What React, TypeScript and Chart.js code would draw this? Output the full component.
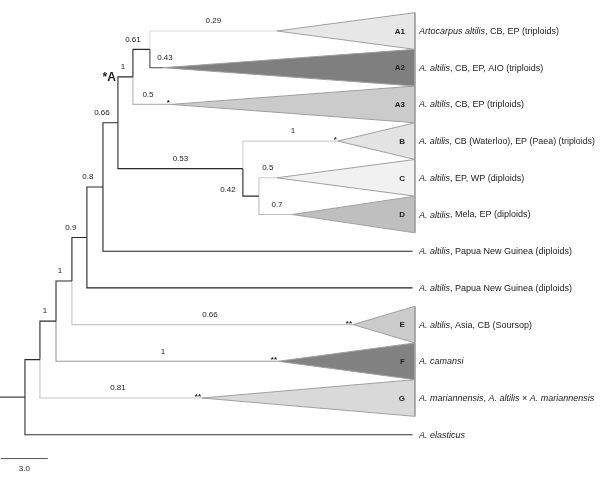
import React, { useEffect, useRef } from 'react';
import { Chart, registerables } from 'chart.js';

Chart.register(...registerables);

// ---------------- data ----------------
// Leaves (top to bottom). Italic parts are wrapped in underscores.
const leafLabels = [
  '_Artocarpus altilis_, CB, EP (triploids)',
  '_A. altilis_, CB, EP, AIO (triploids)',
  '_A. altilis_, CB, EP (triploids)',
  '_A. altilis_, CB (Waterloo), EP (Paea) (triploids)',
  '_A. altilis_, EP, WP (diploids)',
  '_A. altilis_, Mela, EP (diploids)',
  '_A. altilis_, Papua New Guinea (diploids)',
  '_A. altilis_, Papua New Guinea (diploids)',
  '_A. altilis_, Asia, CB (Soursop)',
  '_A. camansi_',
  '_A. mariannensis_, _A. altilis_ × _A. mariannensis_',
  '_A. elasticus_',
];
const cladeNames = ['A1', 'A2', 'A3', 'B', 'C', 'D', '', '', 'E', 'F', 'G', ''];
// depth (from root, in branch-length units) where each leaf branch ends / collapsed clade starts
const leafTipDepth = [16.15, 8.85, 9.36, 20.06, 16.15, 17.12, 24.85, 24.85, 21.03, 16.22, 11.35, 24.85];
const leafSupport = ['0.29', '0.43', '0.5', '1', '0.5', '0.7', '', '', '0.66', '1', '0.81', ''];
const leafStars = ['', '', '*', '*', '', '', '', '', '**', '**', '**', ''];
const cladeFill = ['#e7e7e7', '#7f7f7f', '#cbcbcb', '#e3e3e3', '#f1f1f1', '#bfbfbf', '', '', '#cbcbcb', '#828282', '#d9d9d9', ''];
const leafBranchColor = ['#d9d9d9', '#4a4a4a', '#b5b5b5', '#cfcfcf', '#c8c8c8', '#bdbdbd', '#222222', '#222222', '#c6c6c6', '#9c9c9c', '#c6c6c6', '#333333'];

// Internal nodes
const nodeNames = ['root', 'n1', 'n2', 'n3', 'n4', 'n5', 'n6', 'nA', 'n061', 'nBCD', 'nCD'];
const nodeDepth = [0, 0.96, 1.99, 3.01, 3.97, 5.0, 5.96, 6.92, 8.01, 13.97, 15.0];
const nodeChildren: (string | number)[][] = [
  ['n1', 11], ['n2', 10], ['n3', 9], ['n4', 8], ['n5', 7], ['n6', 6],
  ['nA', 'nBCD'], ['n061', 2], [0, 1], [3, 'nCD'], [4, 5],
];
const nodeSupport = ['', '', '1', '1', '0.9', '0.8', '0.66', '1', '0.61', '0.53', '0.42'];
const nodeCladeName = ['', '', '', '', '', '', '', '*A', '', '', ''];

const rootStemLength = 1.6;
const collapsedCladeDepth = 25.0;
const scaleBarLength = 3.0;
const scaleBarLabel = '3.0';

// ---------------- layout helpers (style) ----------------
const W = 600;
const H = 480;
const PX_PER_UNIT = 15.6;
const ROW_PX = 36.7;
const ROW0_PX = 31;
const X_MIN = -rootStemLength;
const X_MAX = X_MIN + W / PX_PER_UNIT;
const Y_MIN = -ROW0_PX / ROW_PX;
const Y_MAX = Y_MIN + H / ROW_PX;
const DARK = '#2a2a2a';
const FONT = '"Liberation Sans", Arial, Helvetica, sans-serif';

const labelNudge: Record<string, [number, number]> = {
  n2: [-3, 0], n3: [-4, 0], n4: [-8.5, 0], n5: [-7, 0], n6: [-8.5, 0], nA: [-2.5, 0],
  n061: [-8.5, 0], nBCD: [0, 0], nCD: [-23, 3.5],
  L0: [0, 0], L1: [8.5, 0], L2: [-4, 0], L3: [2.5, 0], L4: [0, 0], L5: [1.5, 0],
  L8: [-2.5, 0], L9: [-4, 0], L10: [-3, 0],
};

const keyOf = (c: string | number) => (typeof c === 'number' ? 'L' + c : c);

function computeLayout() {
  const depth: Record<string, number> = {};
  const yPos: Record<string, number> = {};
  leafLabels.forEach((_, i) => {
    depth['L' + i] = leafTipDepth[i];
    yPos['L' + i] = i;
  });
  nodeNames.forEach((n, i) => (depth[n] = nodeDepth[i]));
  const getY = (k: string): number => {
    if (yPos[k] !== undefined) return yPos[k];
    const i = nodeNames.indexOf(k);
    const ys = nodeChildren[i].map((c) => getY(keyOf(c)));
    yPos[k] = (Math.min(...ys) + Math.max(...ys)) / 2;
    return yPos[k];
  };
  nodeNames.forEach((n) => getY(n));
  return { depth, yPos };
}

export default function App() {
  const ref = useRef<HTMLCanvasElement | null>(null);

  useEffect(() => {
    if (!ref.current) return;
    const { depth, yPos } = computeLayout();

    const datasets: any[] = [];

    // collapsed clade triangles
    leafLabels.forEach((_, i) => {
      if (!cladeFill[i]) return;
      datasets.push({
        data: [
          { x: leafTipDepth[i], y: i },
          { x: collapsedCladeDepth, y: i - 0.5 },
          { x: collapsedCladeDepth, y: i + 0.5 },
          { x: leafTipDepth[i], y: i },
        ],
        showLine: true,
        fill: 'shape',
        backgroundColor: cladeFill[i],
        borderColor: '#a0a0a0',
        borderWidth: 1,
        pointRadius: 0,
        tension: 0,
        clip: false,
      });
    });

    // branches
    nodeNames.forEach((n, i) => {
      const px = depth[n];
      const py = yPos[n];
      nodeChildren[i].forEach((c) => {
        const k = keyOf(c);
        const color = typeof c === 'number' ? leafBranchColor[c] : DARK;
        datasets.push({
          data: [
            { x: px, y: py },
            { x: px, y: yPos[k] },
            { x: depth[k], y: yPos[k] },
          ],
          showLine: true,
          fill: false,
          borderColor: color,
          borderWidth: 1.1,
          pointRadius: 0,
          tension: 0,
          clip: false,
        });
      });
    });
    // root stem
    datasets.push({
      data: [
        { x: -rootStemLength, y: yPos['root'] },
        { x: 0, y: yPos['root'] },
      ],
      showLine: true,
      fill: false,
      borderColor: DARK,
      borderWidth: 1.1,
      pointRadius: 0,
      clip: false,
    });
    // scale bar
    const scaleRow = leafLabels.length - 1 + 0.65;
    datasets.push({
      data: [
        { x: X_MIN + 0.06, y: scaleRow },
        { x: X_MIN + 0.06 + scaleBarLength, y: scaleRow },
      ],
      showLine: true,
      fill: false,
      borderColor: '#555555',
      borderWidth: 1,
      pointRadius: 0,
      clip: false,
    });

    const textPlugin = {
      id: 'treeText',
      afterDatasetsDraw(chart: any) {
        const ctx = chart.ctx as CanvasRenderingContext2D;
        const xs = chart.scales.x;
        const ys = chart.scales.y;
        const X = (v: number) => xs.getPixelForValue(v);
        const Y = (v: number) => ys.getPixelForValue(v);
        ctx.save();
        ctx.fillStyle = '#222';

        // support values on branches
        ctx.font = `8px ${FONT}`;
        ctx.textAlign = 'center';
        ctx.textBaseline = 'middle';
        const drawSupport = (k: string, parentDepth: number, text: string) => {
          if (!text) return;
          const [dx, dy] = labelNudge[k] || [0, 0];
          const x = (X(parentDepth) + X(depth[k])) / 2 + dx;
          const y = Y(yPos[k]) - 10 + dy;
          ctx.fillText(text, x, y);
        };
        nodeNames.forEach((n, i) => {
          nodeChildren[i].forEach((c) => {
            const k = keyOf(c);
            const text = typeof c === 'number' ? leafSupport[c] : nodeSupport[nodeNames.indexOf(k)];
            drawSupport(k, nodeDepth[i], text);
          });
        });

        // stars at leaf branch tips
        ctx.font = `bold 8px ${FONT}`;
        ctx.textAlign = 'right';
        ctx.textBaseline = 'alphabetic';
        leafStars.forEach((s, i) => {
          if (!s) return;
          ctx.fillText(s, X(leafTipDepth[i]) - 1, Y(i) + 1);
        });

        // named clade (e.g. *A)
        ctx.font = `bold 12px ${FONT}`;
        ctx.textAlign = 'right';
        ctx.textBaseline = 'alphabetic';
        nodeCladeName.forEach((name, i) => {
          if (!name) return;
          const parentIdx = nodeChildren.findIndex((ch) => ch.includes(nodeNames[i]));
          const x = X(nodeDepth[parentIdx]) - 2;
          ctx.fillText(name, x, Y(yPos[nodeNames[i]]) + 4.5);
        });

        // clade letters inside triangles
        ctx.font = `bold 8px ${FONT}`;
        ctx.textAlign = 'right';
        ctx.textBaseline = 'middle';
        cladeNames.forEach((c, i) => {
          if (!c) return;
          ctx.fillText(c, X(collapsedCladeDepth) - 10, Y(i) + 0.5);
        });

        // leaf labels (with italic runs)
        ctx.textAlign = 'left';
        ctx.textBaseline = 'middle';
        const maxW = W - (X(collapsedCladeDepth) + 4) - 5;
        leafLabels.forEach((lbl, i) => {
          const x0 = X(collapsedCladeDepth) + 4;
          const y = Y(i) + 0.5;
          const parts = lbl.split('_');
          let total = 0;
          parts.forEach((part, j) => {
            ctx.font = `${j % 2 === 1 ? 'italic ' : ''}9px ${FONT}`;
            total += ctx.measureText(part).width;
          });
          const sx = total > maxW ? maxW / total : 1;
          ctx.save();
          ctx.translate(x0, y);
          ctx.scale(sx, 1);
          let x = 0;
          parts.forEach((part, j) => {
            if (!part) return;
            ctx.font = `${j % 2 === 1 ? 'italic ' : ''}9px ${FONT}`;
            ctx.fillText(part, x, 0);
            x += ctx.measureText(part).width;
          });
          ctx.restore();
        });

        // scale bar label
        ctx.font = `8px ${FONT}`;
        ctx.textAlign = 'center';
        ctx.textBaseline = 'middle';
        ctx.fillText(scaleBarLabel, X(X_MIN + 0.06 + scaleBarLength / 2), Y(scaleRow) + 10);

        ctx.restore();
      },
    };

    const chart = new Chart(ref.current, {
      type: 'scatter',
      data: { datasets },
      options: {
        animation: false,
        responsive: false,
        maintainAspectRatio: false,
        layout: { padding: 0 },
        plugins: { legend: { display: false }, tooltip: { enabled: false } },
        events: [],
        scales: {
          x: { type: 'linear', min: X_MIN, max: X_MAX, display: false },
          y: { type: 'linear', min: Y_MIN, max: Y_MAX, reverse: true, display: false },
        },
      },
      plugins: [textPlugin],
    } as any);

    return () => chart.destroy();
  }, []);

  return (
    <div style={{ position: 'absolute', left: 0, top: 0, width: W, height: H, background: '#fff' }}>
      <canvas ref={ref} width={W} height={H} style={{ width: W, height: H, display: 'block' }} />
    </div>
  );
}
